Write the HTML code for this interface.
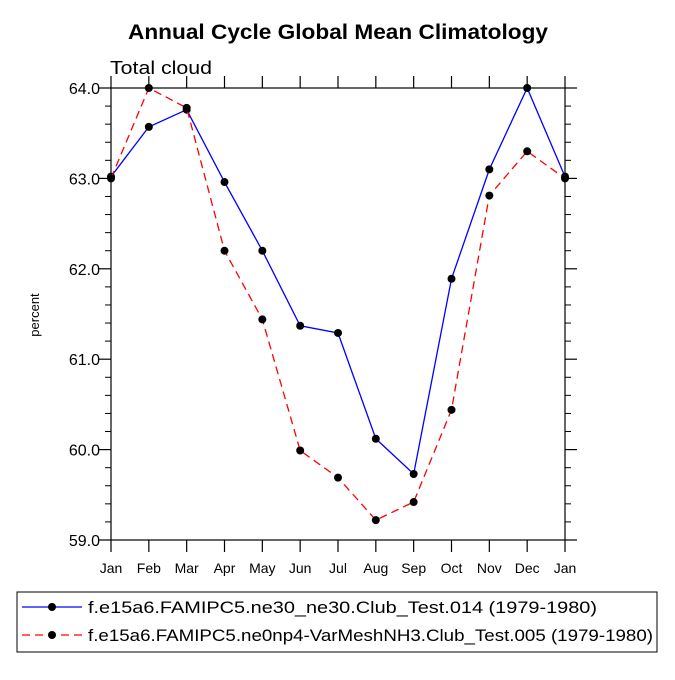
<!DOCTYPE html>
<html><head><meta charset="utf-8"><style>
body{margin:0;background:#fff;}
svg text{font-family:"Liberation Sans",sans-serif;fill:#000;}
</style></head><body>
<svg id="chart" width="675" height="675" xmlns="http://www.w3.org/2000/svg">
<text x="128" y="39" font-size="21" font-weight="bold" textLength="420" lengthAdjust="spacingAndGlyphs">Annual Cycle Global Mean Climatology</text>
<text x="110" y="74" font-size="18" textLength="102" lengthAdjust="spacingAndGlyphs">Total cloud</text>
<text transform="translate(39,315) rotate(-90)" text-anchor="middle" font-size="13">percent</text>
<rect x="111" y="88" width="454" height="452" fill="none" stroke="#000" stroke-width="1.2"/>
<g id="axes"></g>
<g id="series"></g>
<g>
<rect x="17" y="592" width="640" height="60" fill="none" stroke="#000" stroke-width="1"/>
<g>
<line x1="22" y1="607" x2="82" y2="607" stroke="#00f" stroke-width="1.3"/><circle cx="52" cy="607" r="4" fill="#000"/>
<text x="88" y="613" font-size="17" textLength="509" lengthAdjust="spacingAndGlyphs">f.e15a6.FAMIPC5.ne30_ne30.Club_Test.014 (1979-1980)</text></g>
<g>
<line x1="22" y1="635" x2="82" y2="635" stroke="#f00" stroke-width="1.3" stroke-dasharray="8,5"/><circle cx="52" cy="635" r="4" fill="#000"/>
<text x="88" y="641" font-size="17" textLength="565" lengthAdjust="spacingAndGlyphs">f.e15a6.FAMIPC5.ne0np4-VarMeshNH3.Club_Test.005 (1979-1980)</text></g>
</g>
</svg>
<script>
const months = ["Jan","Feb","Mar","Apr","May","Jun","Jul","Aug","Sep","Oct","Nov","Dec","Jan"];
const blueValues = [63.02,63.57,63.76,62.96,62.20,61.37,61.29,60.12,59.73,61.89,63.10,64.00,63.02];
const redValues = [63.00,64.00,63.78,62.20,61.44,59.99,59.69,59.22,59.42,60.44,62.81,63.30,63.00];
const yTicks = [59,60,61,62,63,64];
const yTickLabels = ["59.0","60.0","61.0","62.0","63.0","64.0"];
const NS="http://www.w3.org/2000/svg";
const X0=111,X1=565,Y0=540,Y1=88,YMIN=59,YMAX=64;
function xs(i){return X0+(X1-X0)*i/(months.length-1);}
function ys(v){return Y0-(v-YMIN)/(YMAX-YMIN)*(Y0-Y1);}
function mk(t,a,p){const e=document.createElementNS(NS,t);for(const k in a)e.setAttribute(k,a[k]);p.appendChild(e);return e;}
const ax=document.getElementById('axes');
months.forEach((m,i)=>{const x=xs(i);
 const t1=mk('line',{x1:x,y1:Y0,x2:x,y2:Y0+12,stroke:'#000','stroke-width':1.2},ax);
 
 
 const t2=mk('line',{x1:x,y1:Y1,x2:x,y2:Y1-12,stroke:'#000','stroke-width':1.2},ax);
 
 
 const l=mk('text',{x:x,y:Y0+33,'text-anchor':'middle','font-size':14},ax);l.textContent=m;
 
 
});
yTicks.forEach((v,i)=>{const y=ys(v);
 const a=mk('line',{x1:X0-12,y1:y,x2:X0,y2:y,stroke:'#000','stroke-width':1.2},ax);
 
 
 const b=mk('line',{x1:X1,y1:y,x2:X1+12,y2:y,stroke:'#000','stroke-width':1.2},ax);
 
 
 const l=mk('text',{x:X0-11,y:y+6,'text-anchor':'end','font-size':16},ax);l.textContent=yTickLabels[i];
 
 
 if(i<yTicks.length-1)for(let k=1;k<5;k++){const yy=ys(v+k*0.2);
  const c=mk('line',{x1:X0-6,y1:yy,x2:X0,y2:yy,stroke:'#000','stroke-width':1},ax);
  
  
  const d=mk('line',{x1:X1,y1:yy,x2:X1+6,y2:yy,stroke:'#000','stroke-width':1},ax);
  
  
 }
});
const sg=document.getElementById('series');
function draw(vals,color,dash,name){
 const pts=vals.map((v,i)=>xs(i)+','+ys(v)).join(' ');
 const pl=mk('polyline',{points:pts,fill:'none',stroke:color,'stroke-width':1.3},sg);
 if(dash)pl.setAttribute('stroke-dasharray',dash);
 
 
 vals.forEach((v,i)=>{const c=mk('circle',{cx:xs(i),cy:ys(v),r:4,fill:'#000'},sg);
  
  });
}
draw(blueValues,'#00f',null,'blue-series');
draw(redValues,'#f00','8,5','red-series');
</script>
</body></html>
